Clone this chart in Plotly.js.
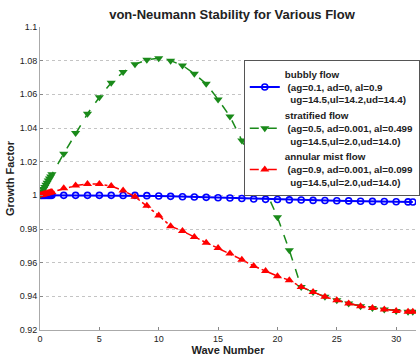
<!DOCTYPE html>
<html>
<head>
<meta charset="utf-8">
<script src="https://cdn.plot.ly/plotly-3.0.1.min.js"></script>
<style>html,body{margin:0;padding:0;background:#fff;}#chart{width:420px;height:356px;}</style>
</head>
<body>
<div id="chart"></div>
<script>
// Wave numbers
var waveNumber = [0,0.1,0.2,0.3,0.4,0.5,0.6,0.7,0.8,0.9,1.0,
  2,3,4,5,6,7,8,9,10,11,12,13,14,15,16,17,18,19,20,21,22,23,24,25,26,27,28,29,30,31,31.4];

var bubbly = [1,1,1,1,1,1,1,1,1,1,1,
  1.0,1.0,1.0,1.0,1.0,0.9999,1.0,0.9998,0.9996,0.9994,0.9992,0.999,0.9988,0.9986,0.9984,0.9981,0.9978,0.9976,0.9975,0.9973,0.9972,0.997,0.9969,0.9968,0.9967,0.9965,0.9964,0.9963,0.9962,0.9961,0.996];

var stratified = [1.0,1.0013,1.0025,1.0038,1.005,1.0063,1.0075,1.0088,1.01,1.0112,1.0125,
  1.0247,1.037,1.0485,1.0583,1.0669,1.0732,1.0778,1.0805,1.0815,1.080,1.0772,1.0722,1.0663,1.057,1.0469,1.0326,1.018,1.003,0.987,0.9674,0.9456,0.9426,0.9397,0.9377,0.9357,0.9341,0.9331,0.9322,0.9313,0.9308,0.9308];

var annular = [1.0,1.0002,1.0004,1.0006,1.0008,1.001,1.0012,1.0014,1.0016,1.0018,1.002,
  1.0042,1.0058,1.0067,1.0067,1.0055,1.0028,0.9992,0.9938,0.988,0.9817,0.9788,0.9753,0.9719,0.9687,0.9654,0.9618,0.958,0.9551,0.952,0.9496,0.9456,0.9426,0.9397,0.9377,0.9357,0.9341,0.9331,0.9322,0.9313,0.9308,0.9308];

var seriesNames = [
  'bubbly flow<br>&nbsp;(ag=0.1, ad=0, al=0.9<br>&nbsp;&nbsp;ug=14.5,ul=14.2,ud=14.4)',
  'stratified flow<br>&nbsp;(ag=0.5, ad=0.001, al=0.499<br>&nbsp;&nbsp;ug=14.5,ul=2.0,ud=14.0)',
  'annular mist flow<br>&nbsp;(ag=0.9, ad=0.001, al=0.099<br>&nbsp;&nbsp;ug=14.5,ul=2.0,ud=14.0)'
];

var yTickVals = [0.92,0.94,0.96,0.98,1.0,1.02,1.04,1.06,1.08,1.1];
var yTickText = ['0.92','0.94','0.96','0.98','1','1.02','1.04','1.06','1.08','1.1'];
var xTickVals = [0,5,10,15,20,25,30];

var traces = [
  {x: waveNumber, y: bubbly, name: seriesNames[0], mode: 'lines+markers', type: 'scatter',
   line: {color: '#0000ff', width: 2},
   marker: {symbol: 'circle-open', size: 6, color: '#0000ff', line: {width: 1.6, color: '#0000ff'}}},
  {x: waveNumber, y: stratified, name: seriesNames[1], mode: 'lines+markers', type: 'scatter',
   line: {color: '#1a8a1a', width: 1.5, dash: 'dash'},
   marker: {symbol: 'triangle-down', size: 8, color: '#1a8a1a'}},
  {x: waveNumber, y: annular, name: seriesNames[2], mode: 'lines+markers', type: 'scatter',
   line: {color: '#ff0000', width: 1.5, dash: 'dashdot'},
   marker: {symbol: 'triangle-up', size: 8, color: '#ff0000'}}
];

var layout = {
  width: 420, height: 356,
  margin: {l: 40, r: 0, t: 26.7, b: 26, pad: 0},
  paper_bgcolor: '#fff', plot_bgcolor: '#fff',
  font: {family: 'Arial, "Liberation Sans", sans-serif', size: 9, color: '#222'},
  title: {text: '<b>von-Neumann Stability for Various Flow</b>', font: {size: 13, color: '#222'},
    x: 232/420, xanchor: 'center', y: 1 - 14/356, yanchor: 'middle', yref: 'container'},
  xaxis: {range: [0, 31.67], tickvals: xTickVals, ticks: 'inside', ticklen: 3, tickcolor: '#888',
    showgrid: false, zeroline: false, showline: true, linecolor: '#aaa', linewidth: 1,
    tickfont: {size: 9}, fixedrange: true,
    title: {text: '<b>Wave Number</b>', font: {size: 11}, standoff: 3}},
  yaxis: {range: [0.92, 1.1], tickvals: yTickVals, ticktext: yTickText, ticks: 'inside', ticklen: 3, tickcolor: '#888',
    showgrid: true, gridcolor: '#c4c4c4', griddash: 'dot', gridwidth: 1,
    zeroline: false, showline: true, linecolor: '#aaa', linewidth: 1,
    tickfont: {size: 9}, fixedrange: true,
    title: {text: '<b>Growth Factor</b>', font: {size: 11}, standoff: 2}},
  legend: {x: 0.542, y: 0.89, xanchor: 'left', yanchor: 'top',
    bgcolor: '#fff', bordercolor: '#555', borderwidth: 1,
    font: {size: 9.8, color: '#222', weight: 'bold', family: 'Arial, "Liberation Sans", sans-serif'},
    itemwidth: 30, tracegroupgap: 0},
  showlegend: true
};

Plotly.newPlot('chart', traces, layout, {displayModeBar: false, staticPlot: true});
</script>
</body>
</html>
